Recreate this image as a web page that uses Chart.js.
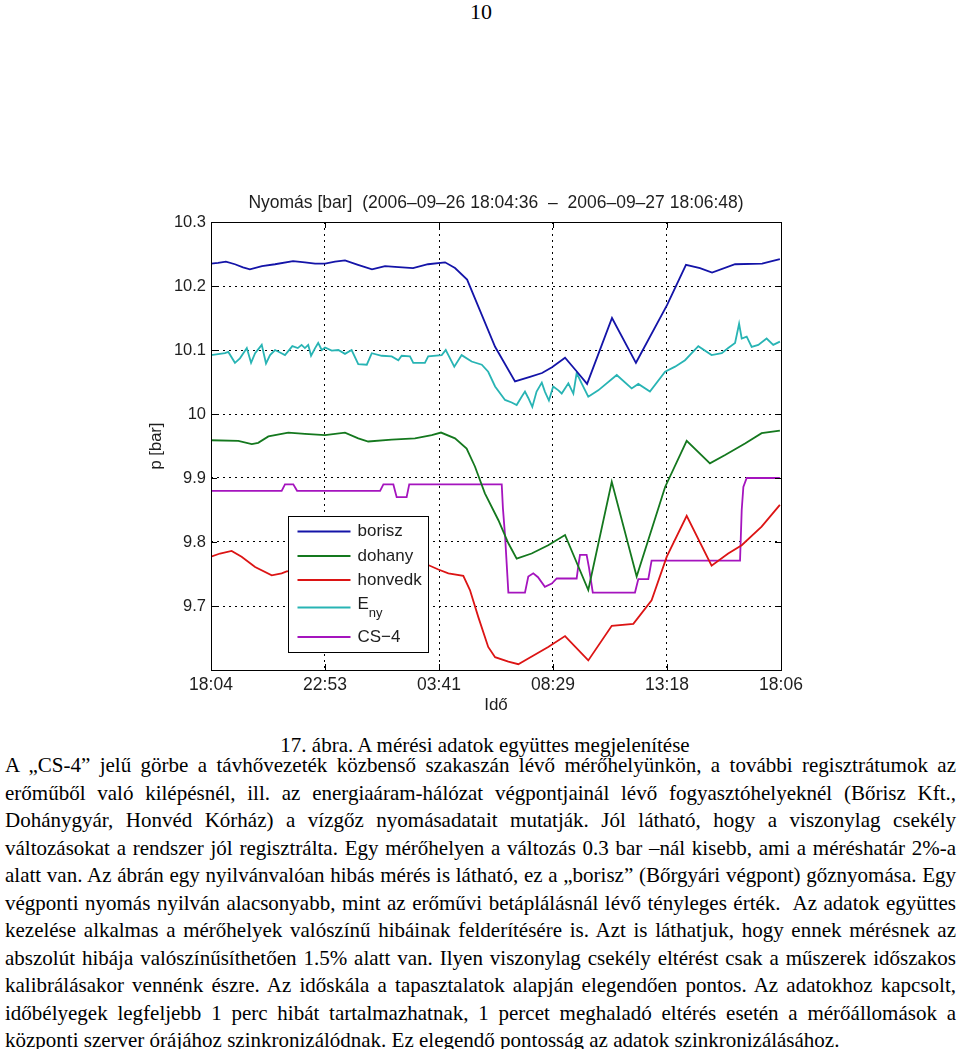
<!DOCTYPE html>
<html><head><meta charset="utf-8">
<script src="https://cdn.jsdelivr.net/npm/chart.js@4.4.0/dist/chart.umd.min.js"></script>
<style>
html,body{margin:0;padding:0;background:#fff;}
body{width:960px;height:1049px;position:relative;overflow:hidden;font-family:"Liberation Serif","Times New Roman",serif;color:#000;}
#pagenum{position:absolute;top:0px;left:0;width:962px;text-align:center;font-size:22px;line-height:24px;}
#wrap{position:absolute;left:100px;top:180px;width:760px;height:550px;}
#caption{position:absolute;top:731px;left:0;width:970px;text-align:center;font-size:21px;line-height:28px;}
#para{position:absolute;top:752px;left:5px;width:951px;font-size:21px;line-height:27.5px;}
#para div{text-align:justify;text-align-last:justify;white-space:nowrap;}
#para div.last{text-align-last:left;}
</style></head>
<body>
<div id="pagenum">10</div>
<div id="wrap"><canvas id="c" width="760" height="550"></canvas></div>
<div id="caption">17. ábra. A mérési adatok együttes megjelenítése</div>
<div id="para">
<div>A „CS-4” jelű görbe a távhővezeték közbenső szakaszán lévő mérőhelyünkön, a további regisztrátumok az</div>
<div>erőműből való kilépésnél, ill. az energiaáram-hálózat végpontjainál lévő fogyasztóhelyeknél (Bőrisz Kft.,</div>
<div>Dohánygyár, Honvéd Kórház) a vízgőz nyomásadatait mutatják. Jól látható, hogy a viszonylag csekély</div>
<div>változásokat a rendszer jól regisztrálta. Egy mérőhelyen a változás 0.3 bar –nál kisebb, ami a méréshatár 2%-a</div>
<div>alatt van. Az ábrán egy nyilvánvalóan hibás mérés is látható, ez a „borisz” (Bőrgyári végpont) gőznyomása. Egy</div>
<div>végponti nyomás nyilván alacsonyabb, mint az erőművi betáplálásnál lévő tényleges érték.&nbsp; Az adatok együttes</div>
<div>kezelése alkalmas a mérőhelyek valószínű hibáinak felderítésére is. Azt is láthatjuk, hogy ennek mérésnek az</div>
<div>abszolút hibája valószínűsíthetően 1.5% alatt van. Ilyen viszonylag csekély eltérést csak a műszerek időszakos</div>
<div>kalibrálásakor vennénk észre. Az időskála a tapasztalatok alapján elegendően pontos. Az adatokhoz kapcsolt,</div>
<div>időbélyegek legfeljebb 1 perc hibát tartalmazhatnak, 1 percet meghaladó eltérés esetén a mérőállomások a</div>
<div class="last">központi szerver órájához szinkronizálódnak. Ez elegendő pontosság az adatok szinkronizálásához.</div>
</div>
<script>
// ---- data (x: hours since 2006-09-26 18:04:36, y: pressure in bar) ----
const chartTitle = 'Nyomás [bar]  (2006–09–26 18:04:36  –  2006–09–27 18:06:48)';
const xTitle = 'Idő';
const yTitle = 'p [bar]';
const xTickHours = [0, 4.807, 9.615, 14.422, 19.229, 24.037];
const xTickLabels = ['18:04', '22:53', '03:41', '08:29', '13:18', '18:06'];
const yTickValues = [9.7, 9.8, 9.9, 10.0, 10.1, 10.2, 10.3];
const seriesNames = ['borisz', 'dohany', 'honvedk', 'Eny', 'CS−4'];

const boriszT = [0,0.30,0.63,1.01,1.35,1.64,2.15,2.70,3.46,3.96,4.39,4.81,5.23,5.65,6.20,6.79,7.34,7.76,8.52,9.15,9.87,10.29,10.80,11.98,12.82,13.45,13.96,14.38,14.93,15.39,15.86,16.91,17.92,19.23,20.03,20.62,21.13,22.10,23.24,23.57,23.99];
const boriszP = [10.235,10.236,10.238,10.234,10.229,10.226,10.231,10.234,10.239,10.237,10.235,10.235,10.238,10.240,10.233,10.226,10.231,10.230,10.228,10.234,10.237,10.228,10.210,10.105,10.051,10.058,10.064,10.073,10.088,10.068,10.047,10.150,10.080,10.170,10.233,10.228,10.221,10.234,10.235,10.238,10.242];

const dohanyT = [0,1.15,1.72,1.99,2.42,3.26,3.96,4.81,5.65,6.21,6.63,7.62,8.60,9.31,9.70,10.29,10.78,11.13,11.55,12.12,12.54,12.89,13.52,14.22,14.93,15.91,16.90,17.95,19.15,20.06,21.04,21.68,22.52,23.22,23.99];
const dohanyP = [9.959,9.958,9.953,9.955,9.965,9.971,9.969,9.967,9.971,9.962,9.957,9.960,9.962,9.967,9.971,9.962,9.946,9.918,9.876,9.834,9.798,9.774,9.782,9.795,9.811,9.725,9.894,9.746,9.886,9.958,9.923,9.936,9.954,9.970,9.974];

const honvedkT = [0,0.38,0.87,1.29,1.86,2.56,2.98,3.19,5.02,7.13,8.39,9.16,9.59,10.01,10.64,10.92,11.27,11.69,11.98,12.54,12.96,13.38,14.22,14.93,15.91,16.90,17.81,18.58,19.22,20.06,21.11,21.81,22.38,23.22,23.99];
const honvedkP = [9.777,9.782,9.786,9.777,9.761,9.748,9.751,9.754,9.758,9.762,9.765,9.764,9.757,9.751,9.747,9.725,9.683,9.636,9.620,9.613,9.609,9.618,9.636,9.653,9.615,9.669,9.672,9.709,9.777,9.841,9.763,9.782,9.795,9.824,9.858];

const enyT = [0,0.59,0.73,1.01,1.22,1.51,1.69,1.86,2.14,2.32,2.49,2.70,2.91,3.12,3.43,3.66,3.82,3.96,4.10,4.22,4.39,4.52,4.67,4.81,5.09,5.37,5.65,5.93,6.21,6.57,6.78,7.20,7.62,7.90,8.04,8.39,8.53,9.02,9.16,9.73,9.90,10.01,10.26,10.57,10.99,11.42,11.69,11.98,12.40,12.68,12.89,13.10,13.24,13.38,13.55,13.73,13.95,14.08,14.25,14.43,14.65,14.79,15.07,15.28,15.42,15.63,15.91,16.33,17.11,17.74,18.02,18.51,19.15,19.57,19.99,20.55,21.11,21.54,21.81,22.10,22.27,22.38,22.59,22.80,23.08,23.43,23.71,23.99];
const enyP = [10.092,10.095,10.097,10.080,10.087,10.103,10.080,10.095,10.108,10.079,10.092,10.100,10.096,10.092,10.106,10.103,10.108,10.103,10.108,10.091,10.103,10.111,10.100,10.104,10.099,10.100,10.094,10.100,10.078,10.077,10.095,10.091,10.090,10.084,10.091,10.090,10.080,10.080,10.090,10.092,10.100,10.092,10.074,10.092,10.082,10.077,10.066,10.043,10.022,10.018,10.014,10.027,10.035,10.025,10.011,10.035,10.049,10.035,10.021,10.043,10.037,10.032,10.048,10.032,10.064,10.048,10.027,10.037,10.061,10.040,10.047,10.035,10.066,10.074,10.084,10.106,10.092,10.095,10.103,10.111,10.141,10.118,10.121,10.105,10.108,10.118,10.108,10.113];

const cs4T = [0,2.98,3.12,3.47,3.63,7.13,7.27,7.55,7.69,7.83,8.25,8.36,12.26,12.31,12.40,12.54,13.24,13.38,13.59,13.79,14.08,14.37,14.58,15.42,15.48,15.56,15.84,15.94,16.10,17.88,18.02,18.44,18.58,22.31,22.38,22.45,22.59,23.99];
const cs4P = [9.880,9.880,9.890,9.890,9.880,9.880,9.890,9.890,9.890,9.870,9.870,9.890,9.890,9.853,9.810,9.721,9.721,9.746,9.751,9.745,9.730,9.735,9.743,9.743,9.760,9.780,9.780,9.760,9.721,9.721,9.742,9.742,9.771,9.771,9.850,9.886,9.900,9.900];

// ---- styling ----
const colors = ['#1414a8', '#14781e', '#dc1414', '#28b4b4', '#a514be'];
const FONT = '"Liberation Sans", Arial, sans-serif';
const TXT = '#1e1e1e';

function pts(t, v) { return t.map((x, i) => ({x: x, y: v[i]})); }
const seriesData = [pts(boriszT, boriszP), pts(dohanyT, dohanyP), pts(honvedkT, honvedkP), pts(enyT, enyP), pts(cs4T, cs4P)];

const frame = {
  id: 'frame',
  afterDraw(chart) {
    const {ctx, chartArea: ca, scales} = chart;
    ctx.save();
    // title
    ctx.fillStyle = TXT;
    ctx.font = '17.5px ' + FONT;
    ctx.textAlign = 'center';
    ctx.textBaseline = 'middle';
    ctx.fillText(chartTitle, (ca.left + ca.right) / 2, ca.top - 19);
    // box
    ctx.strokeStyle = '#000';
    ctx.lineWidth = 1;
    ctx.strokeRect(Math.round(ca.left) + 0.5, Math.round(ca.top) + 0.5, Math.round(ca.right - ca.left), Math.round(ca.bottom - ca.top));
    // inner ticks
    ctx.beginPath();
    xTickHours.forEach(h => {
      const x = Math.round(scales.x.getPixelForValue(h)) + 0.5;
      ctx.moveTo(x, ca.bottom); ctx.lineTo(x, ca.bottom - 6);
      ctx.moveTo(x, ca.top); ctx.lineTo(x, ca.top + 6);
    });
    yTickValues.forEach(v => {
      const y = Math.round(scales.y.getPixelForValue(v)) + 0.5;
      ctx.moveTo(ca.left, y); ctx.lineTo(ca.left + 6, y);
      ctx.moveTo(ca.right, y); ctx.lineTo(ca.right - 6, y);
    });
    ctx.stroke();
    // legend
    const lx = Math.round(ca.left + 77) + 0.5, ly = Math.round(ca.top + 294) + 0.5, lw = 140, lh = 136;
    ctx.fillStyle = '#fff';
    ctx.fillRect(lx, ly, lw, lh);
    ctx.strokeStyle = '#000';
    ctx.lineWidth = 1;
    ctx.strokeRect(lx, ly, lw, lh);
    const rows = [15, 39.5, 63.5, 91, 120.5];
    chart.data.datasets.forEach((ds, i) => {
      const y = ly + rows[i];
      ctx.strokeStyle = ds.borderColor;
      ctx.lineWidth = 1.8;
      ctx.beginPath(); ctx.moveTo(lx + 9, y); ctx.lineTo(lx + 62, y); ctx.stroke();
      ctx.fillStyle = TXT;
      ctx.textAlign = 'left';
      ctx.textBaseline = 'middle';
      ctx.font = '17px ' + FONT;
      if (ds.label === 'Eny') {
        ctx.fillText('E', lx + 69, y - 3);
        const w = ctx.measureText('E').width;
        ctx.font = '13px ' + FONT;
        ctx.fillText('ny', lx + 69 + w, y + 6);
      } else {
        ctx.fillText(ds.label, lx + 69, y);
      }
    });
    ctx.restore();
  }
};

new Chart(document.getElementById('c'), {
  type: 'line',
  data: {
    datasets: seriesNames.map((n, i) => ({
      label: n,
      data: seriesData[i],
      borderColor: colors[i],
      backgroundColor: colors[i],
      borderWidth: 1.8,
      pointRadius: 0,
      tension: 0,
      fill: false
    }))
  },
  options: {
    responsive: false,
    animation: false,
    devicePixelRatio: 1,
    layout: {padding: {left: 0, right: 79, top: 42, bottom: 0}},
    plugins: {legend: {display: false}, title: {display: false}, tooltip: {enabled: false}},
    scales: {
      x: {
        type: 'linear', min: 0, max: xTickHours[xTickHours.length - 1],
        afterBuildTicks: s => { s.ticks = xTickHours.map(v => ({value: v})); },
        afterFit: s => { s.height = 60; },
        ticks: {
          autoSkip: false, maxRotation: 0, padding: 5, color: TXT,
          font: {family: FONT, size: 17.5},
          callback: (v, i) => xTickLabels[i]
        },
        grid: {color: '#000', lineWidth: 1, drawTicks: false},
        border: {display: false, dash: [2, 4]},
        title: {display: true, text: xTitle, color: TXT, font: {family: FONT, size: 17}, padding: {top: 0, bottom: 14}}
      },
      y: {
        type: 'linear', min: 9.6, max: 10.3,
        afterBuildTicks: s => { s.ticks = yTickValues.map(v => ({value: v})); },
        afterFit: s => { s.width = 111; },
        ticks: {
          padding: 5, color: TXT,
          font: {family: FONT, size: 16.5},
          callback: v => String(+(+v).toFixed(1))
        },
        grid: {color: '#000', lineWidth: 1, drawTicks: false},
        border: {display: false, dash: [2, 4]},
        title: {display: true, text: yTitle, color: TXT, font: {family: FONT, size: 16.5}, padding: {top: 47, bottom: 0}}
      }
    }
  },
  plugins: [frame]
});
</script>
</body></html>
